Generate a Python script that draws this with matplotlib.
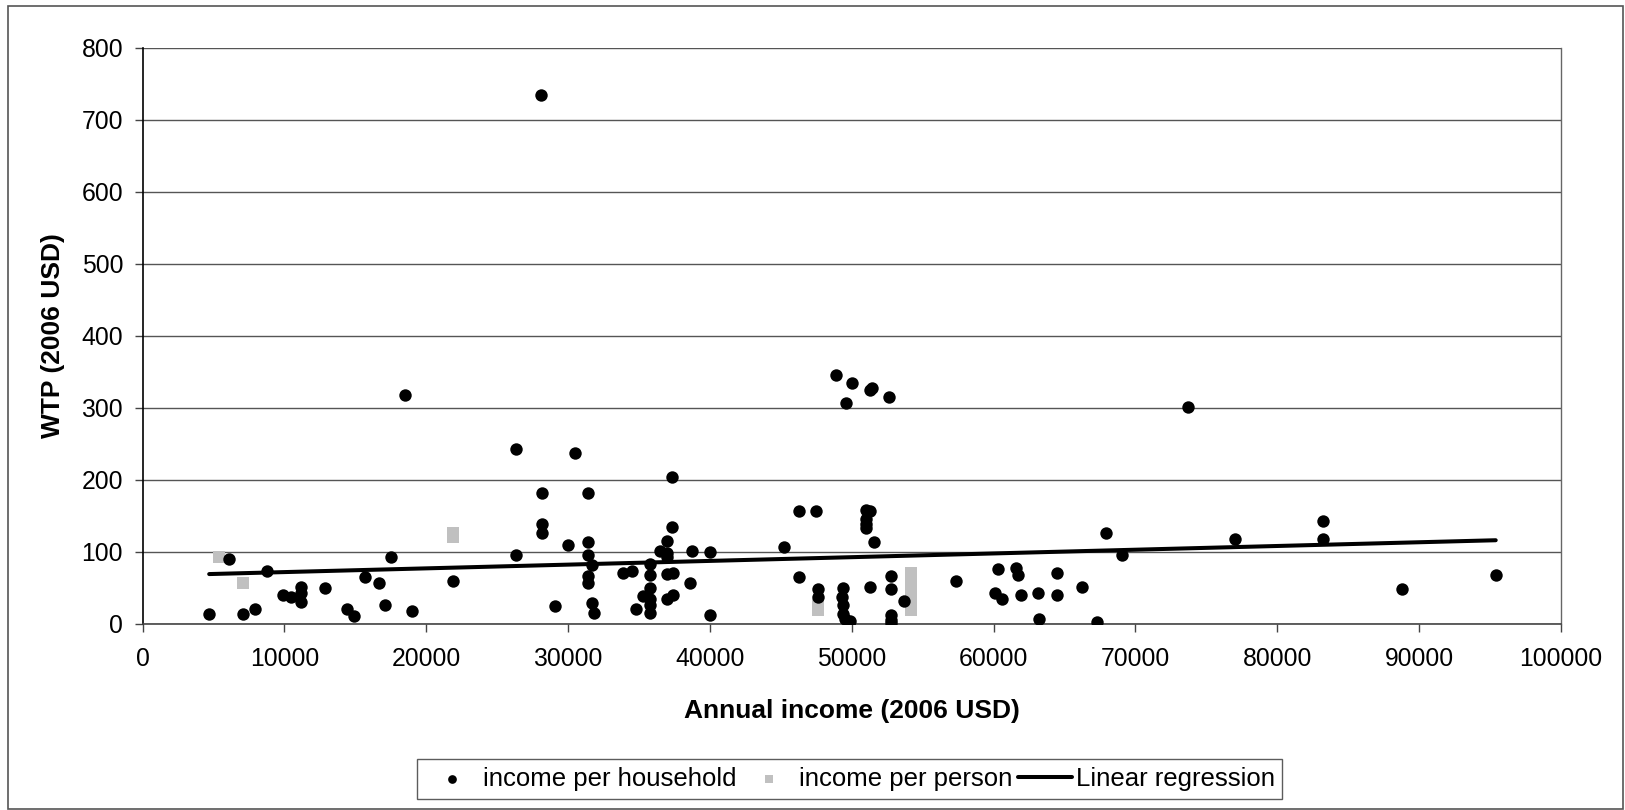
import matplotlib
matplotlib.use("Agg")
import matplotlib.pyplot as plt
from matplotlib.patches import Rectangle
import numpy as np

plt.rcParams['font.family'] = ['Liberation Sans', 'DejaVu Sans']

# income per household (USD) and WTP (USD)
household_income = [
    4700, 6100, 7100, 7950, 8800, 9930, 10500, 11200, 11200, 11200,
    12900, 14400, 14900, 15700, 16700, 17100, 17550, 18500, 19000, 21900,
    26300, 26300, 28100, 28150, 28150, 28150, 29100, 30000, 30500, 31400,
    31400, 31400, 31700, 31400, 31400, 31700, 31800,
    33900, 34500, 34800, 35300, 35750, 35750, 35750, 35750, 35750, 35750,
    36500, 37000, 37000, 37000, 37300, 37300, 37000, 37400, 37000, 37400,
    38600, 38750, 40000, 40000,
    45200, 46300, 46300, 47500, 47600, 47600, 48900, 49600, 50000, 51300,
    51400, 52600, 49400, 49300, 49400, 49400, 49500, 49900, 51000, 51300,
    51000, 51000, 51000, 51600, 51300, 52800, 52800, 52800, 52800, 52800,
    53700,
    57350, 60300, 61600, 61700, 64500, 60100, 60600, 61900, 63100, 64500,
    66200, 63200, 67300, 67900, 69050, 73700, 77000, 83200, 83200, 88800,
    95400,
]
household_wtp = [
    13, 90, 13, 20, 73, 40, 37, 51, 42, 30,
    49, 21, 11, 65, 57, 26, 93, 318, 18, 59,
    243, 95, 735, 182, 138, 126, 24, 110, 237, 181,
    113, 96, 82, 66, 57, 29, 15,
    71, 73, 21, 38, 83, 68, 49, 34, 26, 15,
    101, 115, 98, 92, 135, 204, 69, 71, 35, 40,
    57, 101, 99, 12,
    107, 157, 65, 157, 48, 37, 346, 307, 335, 325,
    327, 315, 50, 37, 26, 14, 7, 4, 158, 157,
    146, 139, 133, 113, 51, 66, 48, 12, 5, 1,
    32,
    60, 76, 77, 67, 71, 43, 35, 40, 43, 40,
    51, 7, 2, 126, 95, 301, 118, 143, 118, 48,
    68,
]

# income per person (USD) and WTP (USD)
person_income = [5400, 7100, 21900, 21900, 47600, 47600, 54200, 54200, 54200, 54200, 54200]
person_wtp = [92, 57, 121, 126, 19, 26, 71, 58, 45, 32, 19]

# linear regression line (as drawn in the source chart)
reg_intercept = 66.5
reg_slope = 0.000518

x_ticks = list(range(0, 100001, 10000))
y_ticks = list(range(0, 801, 100))

fig = plt.figure(figsize=(16.25, 8.1), dpi=100)
ax = fig.add_axes([0.0877, 0.23, 0.8729, 0.7111])

ax.scatter(household_income, household_wtp, s=80, marker='o', color='black',
           linewidths=0, label='income per household', zorder=3)
ax.scatter(person_income, person_wtp, s=72, marker='s', color='#c0c0c0',
           linewidths=0, label='income per person', zorder=2)

reg_x = np.array([min(household_income), max(household_income)])
ax.plot(reg_x, reg_intercept + reg_slope * reg_x, color='black', lw=2.9,
        solid_capstyle='round', label='Linear regression', zorder=4)

ax.set_xlim(0, 100000)
ax.set_ylim(0, 800)
ax.set_xticks(x_ticks)
ax.set_xticklabels([str(t) for t in x_ticks])
ax.set_yticks(y_ticks)
ax.tick_params(axis='both', direction='out', length=6, width=1.0,
               labelsize=17.8, color='#444444')
ax.tick_params(axis='x', pad=11)
ax.tick_params(axis='y', pad=8)

ax.yaxis.grid(True, color='#555555', lw=1.0)
ax.set_axisbelow(True)
for side in ['top', 'right']:
    ax.spines[side].set_color('#666666')
    ax.spines[side].set_linewidth(1.0)
ax.spines['top'].set_visible(False)
ax.spines['left'].set_color('black')
ax.spines['bottom'].set_color('#444444')
ax.spines['left'].set_linewidth(1.2)
ax.spines['bottom'].set_linewidth(1.2)

ax.set_xlabel('Annual income (2006 USD)', fontsize=19, fontweight='bold', labelpad=20)
ax.set_ylabel('WTP (2006 USD)', fontsize=19, fontweight='bold', labelpad=12)

leg = fig.legend(loc='center', bbox_to_anchor=(0.523, 0.0385), ncol=3,
                 fontsize=18.5, frameon=True, fancybox=False, edgecolor='#333333',
                 handlelength=2.1, handletextpad=0.15, columnspacing=0.2,
                 borderpad=0.3, borderaxespad=0.0, markerscale=0.7)
leg.get_frame().set_linewidth(1.0)

fig.patches.append(Rectangle((8 / 1625, 1 / 810), 1615 / 1625, 803 / 810,
                             transform=fig.transFigure, fill=False,
                             edgecolor='#555555', lw=1.2))

fig.savefig('out.png', dpi=100)
